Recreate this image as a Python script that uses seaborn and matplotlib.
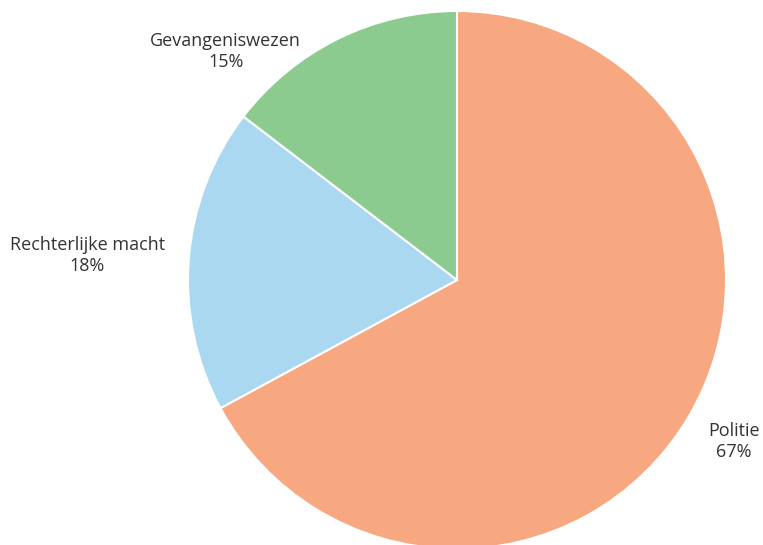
import matplotlib
matplotlib.use("Agg")
import matplotlib.pyplot as plt
import seaborn as sns

sns.set_theme(style="white")
plt.rcParams["font.family"] = ["Open Sans", "DejaVu Sans"]

# data (shares, labels show rounded values)
labels = ["Politie", "Rechterlijke macht", "Gevangeniswezen"]
shares = [67.1, 18.3, 14.6]
colors = ["#F8A880", "#A9D8F0", "#8CCB8F"]

# label positions, in units of the pie radius
label_pos = [(1.03, -0.60), (-1.375, 0.09), (-0.86, 0.85)]

fig = plt.figure(figsize=(7.63, 5.45), dpi=100)
# pie centre at (457, 280) px, radius 269 px
cx, cy, r = 457, 545 - 280, 269
ax = fig.add_axes([(cx - r) / 763, (cy - r) / 545, 2 * r / 763, 2 * r / 545])

ax.pie(shares, colors=colors, startangle=90, counterclock=False,
       radius=1, wedgeprops=dict(edgecolor="white", linewidth=1.5))
ax.set_xlim(-1, 1)
ax.set_ylim(-1, 1)
ax.set_aspect("equal")
ax.axis("off")

for name, val, (x, y) in zip(labels, shares, label_pos):
    ax.text(x, y, f"{name}\n{round(val)}%", ha="center", va="center",
            fontsize=13, color="#333333", linespacing=1.2,
            clip_on=False)

fig.savefig("out.png", dpi=100)
